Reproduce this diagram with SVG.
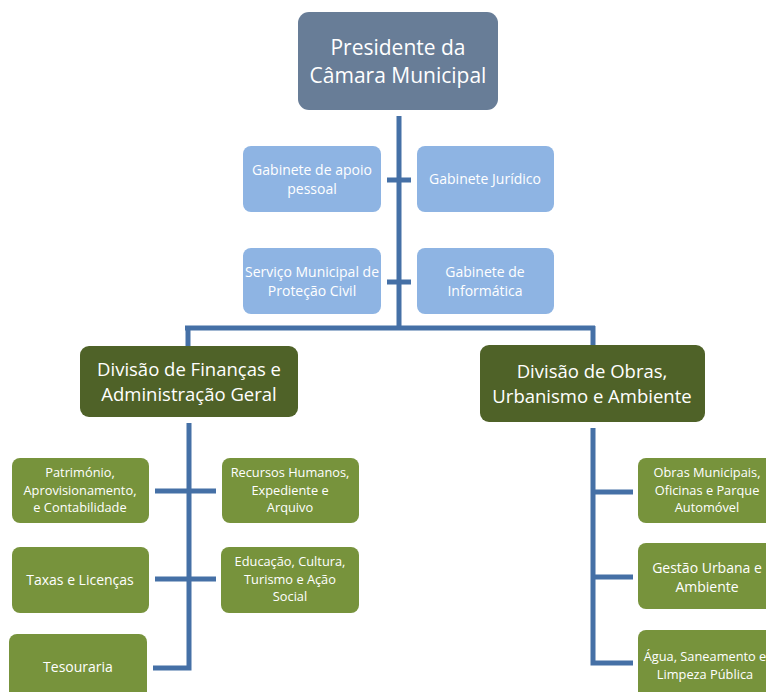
<svg xmlns="http://www.w3.org/2000/svg" width="766" height="692" viewBox="0 0 766 692">
<style>
.t{font-family:"Open Sans","Liberation Sans",sans-serif;fill:#fff;text-anchor:middle}
.big{font-size:21px}
.div{font-size:18.5px}
.sm{font-size:14px}
.s3{font-size:12.8px}
.pres{fill:#687D97}
.lb{fill:#8EB4E3}
.dk{fill:#4F6228}
.md{fill:#77933C}
.ln{stroke:#4570A6;stroke-width:5;fill:none}
</style>
<rect width="766" height="692" fill="#fff"/>
<g id="connectors">
<path class="ln" d="M399 116V328"/>
<path class="ln" d="M185 328H595"/>
<path class="ln" d="M188 326V346"/>
<path class="ln" d="M593 326V345"/>
<path class="ln" d="M387 180H411M387 282H411"/>
<path class="ln" d="M189 423V668H153"/>
<path class="ln" d="M155 491H216M155 579H216"/>
<path class="ln" d="M593 428V663H633M593 492H633M593 577H633"/>
</g>
<g id="presidente">
<rect class="pres" x="298" y="12" width="200" height="98" rx="11"/>
<text class="t big" x="398" y="55">Presidente da</text>
<text class="t big" x="398" y="83">Câmara Municipal</text>
</g>
<g id="gab-apoio">
<rect class="lb" x="243" y="146" width="138" height="66" rx="8"/>
<text class="t sm" x="312" y="175">Gabinete  de apoio</text>
<text class="t sm" x="312" y="194">pessoal</text>
</g>
<g id="gab-juridico">
<rect class="lb" x="417" y="146" width="137" height="66" rx="8"/>
<text class="t sm" x="485" y="184">Gabinete Jurídico</text>
</g>
<g id="protecao-civil">
<rect class="lb" x="243" y="248" width="138" height="66" rx="8"/>
<text class="t sm" x="312" y="277">Serviço Municipal de</text>
<text class="t sm" x="312" y="296">Proteção Civil</text>
</g>
<g id="gab-informatica">
<rect class="lb" x="417" y="248" width="137" height="66" rx="8"/>
<text class="t sm" x="485" y="277">Gabinete de</text>
<text class="t sm" x="485" y="296">Informática</text>
</g>
<g id="div-financas">
<rect class="dk" x="80" y="346" width="218" height="71" rx="9"/>
<text class="t div" x="189" y="376">Divisão de Finanças e</text>
<text class="t div" x="189" y="401">Administração Geral</text>
</g>
<g id="div-obras">
<rect class="dk" x="480" y="345" width="225" height="77" rx="9"/>
<text class="t div" x="592" y="378">Divisão de Obras,</text>
<text class="t div" x="592" y="403">Urbanismo e Ambiente</text>
</g>
<g id="patrimonio">
<rect class="md" x="12" y="458" width="137" height="65" rx="8"/>
<text class="t s3" x="80" y="477">Património,</text>
<text class="t s3" x="80" y="494.5">Aprovisionamento,</text>
<text class="t s3" x="80" y="512">e Contabilidade</text>
</g>
<g id="recursos-humanos">
<rect class="md" x="222" y="458" width="137" height="65" rx="8"/>
<text class="t s3" x="290" y="477">Recursos Humanos,</text>
<text class="t s3" x="290" y="494.5">Expediente e</text>
<text class="t s3" x="290" y="512">Arquivo</text>
</g>
<g id="taxas">
<rect class="md" x="12" y="547" width="137" height="66" rx="8"/>
<text class="t sm" x="80" y="585">Taxas e Licenças</text>
</g>
<g id="educacao">
<rect class="md" x="221" y="547" width="138" height="66" rx="8"/>
<text class="t s3" x="290" y="566">Educação, Cultura,</text>
<text class="t s3" x="290" y="583.5">Turismo e Ação</text>
<text class="t s3" x="290" y="601">Social</text>
</g>
<g id="tesouraria">
<rect class="md" x="9" y="634" width="138" height="70" rx="8"/>
<text class="t sm" x="78" y="672">Tesouraria</text>
</g>
<g id="obras-municipais">
<rect class="md" x="638" y="458" width="140" height="65" rx="8"/>
<text class="t s3" x="707" y="477">Obras Municipais,</text>
<text class="t s3" x="707" y="494.5">Oficinas e Parque</text>
<text class="t s3" x="707" y="512">Automóvel</text>
</g>
<g id="gestao-urbana">
<rect class="md" x="638" y="543" width="140" height="66" rx="8"/>
<text class="t sm" x="707" y="573">Gestão Urbana e</text>
<text class="t sm" x="707" y="592">Ambiente</text>
</g>
<g id="agua">
<rect class="md" x="638" y="630" width="140" height="70" rx="8"/>
<text class="t s3" x="705" y="661">Água, Saneamento e</text>
<text class="t s3" x="705" y="678.5">Limpeza Pública</text>
</g>
</svg>
